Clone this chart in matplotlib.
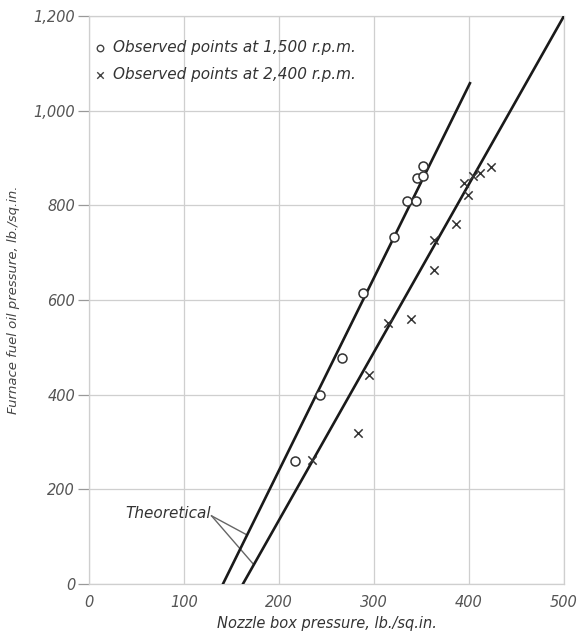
import numpy as np
import matplotlib.pyplot as plt

# observed points
rpm1500_x = [217, 243, 266, 288, 321, 335, 344, 345, 352, 352]
rpm1500_y = [260, 399, 478, 614, 734, 810, 810, 858, 862, 883]
rpm2400_x = [235, 283, 295, 315, 339, 363, 363, 386, 399, 395, 404, 412, 423]
rpm2400_y = [262, 318, 442, 551, 560, 663, 727, 760, 822, 847, 862, 869, 882]

# theoretical lines (end points)
theo1_x = [141, 401]
theo1_y = [0, 1058]
theo2_x = [162, 500]
theo2_y = [0, 1200]

xticks = [0, 100, 200, 300, 400, 500]
yticks = [0, 200, 400, 600, 800, 1000, 1200]
ytick_labels = ["0", "200", "400", "600", "800", "1,000", "1,200"]

grey = "#555555"
grid_c = "#cfcfcf"

fig = plt.figure(figsize=(5.87, 6.4), dpi=100)
ax = fig.add_axes([0.1516, 0.0875, 0.8092, 0.8875])

ax.plot(theo1_x, theo1_y, color="#1a1a1a", lw=1.9, zorder=3)
ax.plot(theo2_x, theo2_y, color="#1a1a1a", lw=1.9, zorder=3)

ax.scatter(rpm1500_x, rpm1500_y, marker="o", s=42, facecolor="white",
           edgecolor="#333333", linewidth=1.1, zorder=4)
ax.scatter(rpm2400_x, rpm2400_y, marker="x", s=36, color="#333333",
           linewidth=1.1, zorder=4)

ax.set_xlim(0, 500)
ax.set_ylim(0, 1200)
ax.set_xticks(xticks)
ax.set_yticks(yticks)
ax.set_xticklabels([str(v) for v in xticks])
ax.set_yticklabels(ytick_labels)
ax.grid(True, color=grid_c, lw=0.9, zorder=0)
for s in ax.spines.values():
    s.set_color(grid_c)
    s.set_linewidth(0.9)

ax.tick_params(axis="y", length=8, width=0.9, color="#999999", pad=2,
               labelsize=10.5, labelcolor=grey)
ax.tick_params(axis="x", length=0, pad=8, labelsize=10.5, labelcolor=grey)
for lbl in ax.get_xticklabels() + ax.get_yticklabels():
    lbl.set_style("italic")

ax.set_xlabel("Nozzle box pressure, lb./sq.in.", style="italic",
              fontsize=10.5, color="#333333", labelpad=4)
ax.set_ylabel("Furnace fuel oil pressure, lb./sq.in.", style="italic",
              fontsize=9.5, color="#444444", labelpad=10)

# legend drawn by hand like the original
ax.scatter([12], [1133], marker="o", s=22, facecolor="white",
           edgecolor="#444444", linewidth=1.0, zorder=4, clip_on=False)
ax.text(25, 1133, "Observed points at 1,500 r.p.m.", style="italic",
        fontsize=11, color="#333333", va="center")
ax.scatter([12], [1076], marker="x", s=22, color="#444444",
           linewidth=1.0, zorder=4, clip_on=False)
ax.text(25, 1076, "Observed points at 2,400 r.p.m.", style="italic",
        fontsize=11, color="#333333", va="center")

# Theoretical label with leader lines
ax.text(128, 150, "Theoretical", style="italic", fontsize=11,
        color="#333333", ha="right", va="center")
ax.plot([129, 166], [144, 104], color="#666666", lw=1.0, zorder=2)
ax.plot([129, 173], [144, 42], color="#666666", lw=1.0, zorder=2)

fig.savefig("out.png", dpi=100)
